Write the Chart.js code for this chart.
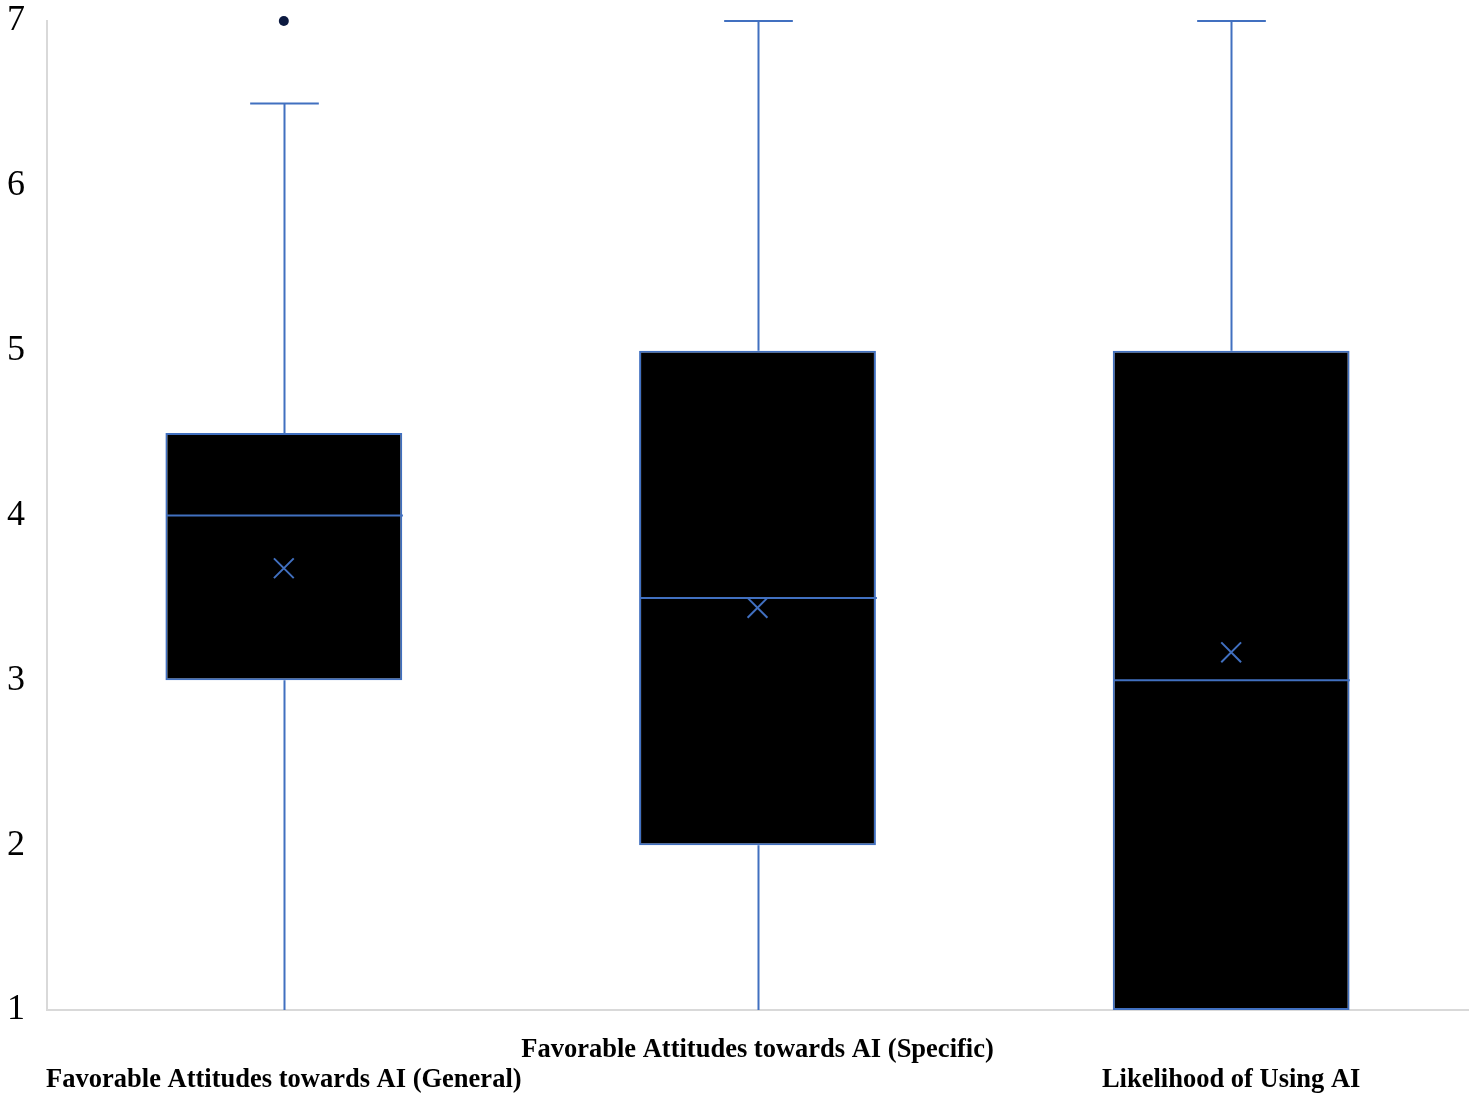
<!DOCTYPE html>
<html>
<head>
<meta charset="utf-8">
<script src="https://cdn.jsdelivr.net/npm/chart.js@4.4.1/dist/chart.umd.min.js"></script>
<style>
  html, body { margin: 0; padding: 0; background: #fff; }
  #wrap { width: 1477px; height: 1098px; }
</style>
</head>
<body>
<div id="wrap"><canvas id="chart" width="1477" height="1098"></canvas></div>
<script>
  const categories = [
    "Favorable Attitudes towards AI (General)",
    "Favorable Attitudes towards AI (Specific)",
    "Likelihood of Using AI"
  ];
  // five-number summaries
  const mins = [1, 1, 1];
  const q1s = [3, 2, 1];
  const medians = [4, 3.5, 3];
  const q3s = [4.5, 5, 5];
  const maxs = [6.5, 7, 7];
  const means = [3.68, 3.44, 3.17];
  const outliers = [7, null, null];
  const yTicks = [1, 2, 3, 4, 5, 6, 7];

  const BLUE = "#4170C0";

  // stagger labels: the middle one sits on the first line, the others on the second
  const staggered = categories.map((c, i) => i === 1 ? [c, ""] : ["", c]);

  const boxExtras = {
    id: "boxExtras",
    afterDatasetsDraw(chart) {
      const ctx = chart.ctx;
      const x = chart.scales.x, y = chart.scales.y;
      const meta = chart.getDatasetMeta(0);
      ctx.save();
      ctx.strokeStyle = BLUE;
      ctx.lineWidth = 2;
      categories.forEach((c, i) => {
        const cx = Math.round(x.getPixelForValue(i)) + 0.5;
        const bw = meta.data[i].width;
        const cap = bw * 0.29;
        const yMin = y.getPixelForValue(mins[i]);
        const yMax = y.getPixelForValue(maxs[i]);
        const yQ1 = y.getPixelForValue(q1s[i]);
        const yQ3 = y.getPixelForValue(q3s[i]);
        const yMed = y.getPixelForValue(medians[i]);
        ctx.beginPath();
        // upper whisker and cap
        if (yMax < yQ3) {
          ctx.moveTo(cx, yQ3); ctx.lineTo(cx, yMax);
          ctx.moveTo(cx - cap / 2, yMax); ctx.lineTo(cx + cap / 2, yMax);
        }
        // lower whisker; its cap sits on the axis and is hidden there
        if (yMin > yQ1) {
          ctx.moveTo(cx, yQ1); ctx.lineTo(cx, yMin);
          if (mins[i] > y.min) {
            ctx.moveTo(cx - cap / 2, yMin); ctx.lineTo(cx + cap / 2, yMin);
          }
        }
        // median
        ctx.moveTo(cx - bw / 2, yMed); ctx.lineTo(cx + bw / 2, yMed);
        ctx.stroke();
      });
      ctx.restore();
    }
  };

  new Chart(document.getElementById("chart"), {
    data: {
      labels: staggered,
      datasets: [
        {
          type: "bar",
          data: q1s.map((v, i) => [v, q3s[i]]),
          backgroundColor: "#000000",
          borderColor: BLUE,
          borderWidth: 2,
          borderSkipped: false,
          barPercentage: 0.5,
          categoryPercentage: 1.0,
          order: 2
        },
        {
          type: "line",
          data: means,
          showLine: false,
          pointStyle: "crossRot",
          pointRadius: 14,
          pointBorderWidth: 2,
          pointBorderColor: BLUE,
          pointBackgroundColor: BLUE,
          clip: false,
          order: 1
        },
        {
          type: "line",
          data: outliers,
          showLine: false,
          pointStyle: "circle",
          pointRadius: 5,
          pointBorderWidth: 0,
          pointBackgroundColor: "#0c1a40",
          clip: false,
          order: 0
        }
      ]
    },
    options: {
      responsive: false,
      animation: false,
      layout: { autoPadding: false, padding: { top: 21, right: 9, left: 0, bottom: 0 } },
      plugins: { legend: { display: false }, tooltip: { enabled: false } },
      scales: {
        x: {
          grid: { display: false, drawTicks: false },
          border: { display: true, color: "#d9d9d9", width: 2 },
          ticks: {
            color: "#000",
            font: { family: "Liberation Serif", size: 26.5, weight: "bold", lineHeight: 1.13 },
            padding: 25,
            maxRotation: 0,
            autoSkip: false
          },
          afterFit(s) { s.height = 88; s.paddingLeft = 0; s.paddingRight = 0; }
        },
        y: {
          min: 1,
          max: 7,
          grid: { display: false, drawTicks: false },
          border: { display: true, color: "#d9d9d9", width: 2 },
          afterBuildTicks(s) { s.ticks = yTicks.map(v => ({ value: v })); },
          ticks: {
            color: "#000",
            font: { family: "Liberation Serif", size: 36 },
            padding: 22
          },
          afterFit(s) { s.width = 47; s.paddingTop = 0; s.paddingBottom = 0; }
        }
      }
    },
    plugins: [boxExtras]
  });
</script>
</body>
</html>
